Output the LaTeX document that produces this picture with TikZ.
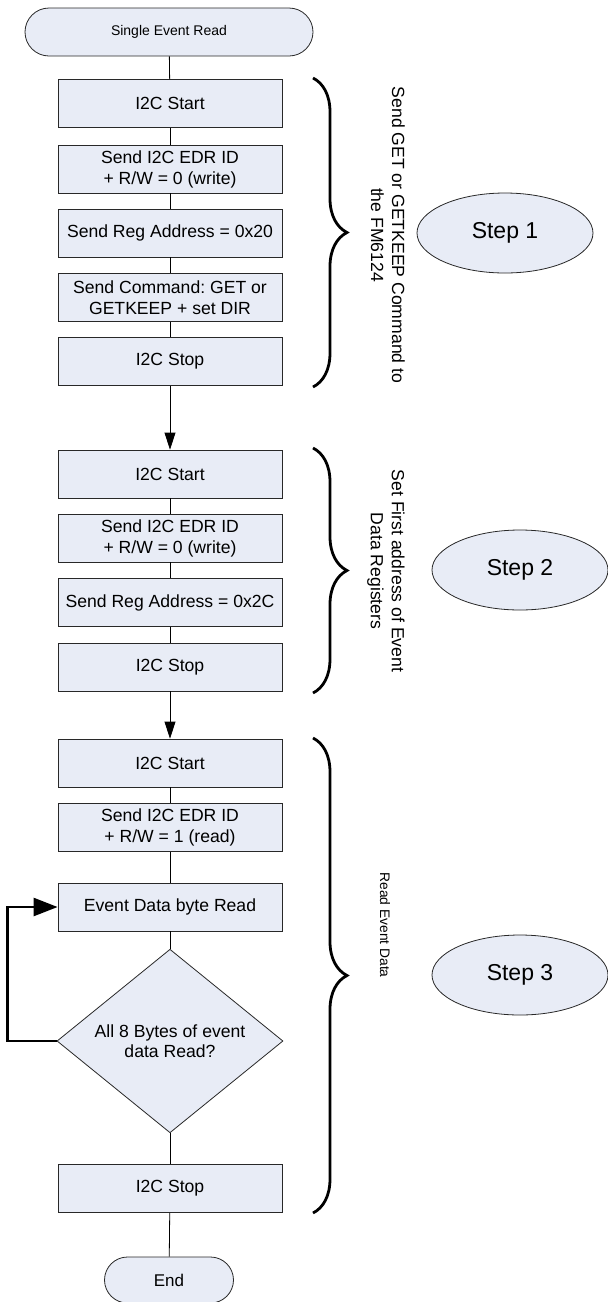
\documentclass[tikz,border=0pt]{standalone}
\usepackage{fontspec}
\setmainfont{Liberation Sans}
\frenchspacing
\usepackage{tikz}
\usetikzlibrary{arrows.meta,shapes.misc,shapes.geometric,decorations.pathreplacing}
\definecolor{boxfill}{RGB}{232,236,246}
\definecolor{edgegray}{RGB}{40,40,40}
\tikzset{
  flowarrow/.style={-{Triangle[length=17pt, width=11pt]}, line width=0.8pt},
  flowline/.style={line width=0.8pt},
  loopline/.style={-{Triangle[length=24pt, width=18pt]}, line width=2.6pt},
  termnode/.style={draw=edgegray, rounded rectangle, fill=boxfill, line width=0.8pt, minimum height=48pt, inner sep=0pt},
  procnode/.style={draw=edgegray, fill=boxfill, line width=0.8pt, minimum width=224pt, minimum height=48pt, inner sep=0pt, align=center, font=\fontsize{17.6}{21}\selectfont},
  decnode/.style={draw=edgegray, diamond, fill=boxfill, line width=0.8pt, minimum width=226pt, minimum height=168pt, inner sep=0pt, align=center, font=\fontsize{17.6}{20}\selectfont},
  stepnode/.style={draw=edgegray, ellipse, fill=boxfill, line width=0.8pt, minimum width=176pt, minimum height=80pt, inner sep=0pt, font=\fontsize{23}{27}\selectfont},
  bracedeco/.style={decorate, decoration={brace, amplitude=34pt}, line width=2.8pt},
  bracelabel/.style={rotate=-90, align=center, font=\fontsize{17.6}{21}\selectfont}
}
\begin{document}
\begin{tikzpicture}[x=1pt, y=-1pt]
  \useasboundingbox (0,0) rectangle (608,1302);
  % flow
  \node[termnode, minimum width=288pt, font=\fontsize{14}{17}\selectfont] (start) at (169,32) {Single Event Read};
  \node[procnode] (a1) at (170,103.5) {I2C Start};
  \node[procnode] (a2) at (170,169) {Send I2C EDR ID\\+ R/W = 0 (write)};
  \node[procnode] (a3) at (170,233) {Send Reg Address = 0x20};
  \node[procnode] (a4) at (170,297.5) {Send Command: GET or\\GETKEEP + set DIR};
  \node[procnode] (a5) at (170,361.5) {I2C Stop};
  \node[procnode] (b1) at (170,474) {I2C Start};
  \node[procnode] (b2) at (170,538) {Send I2C EDR ID\\+ R/W = 0 (write)};
  \node[procnode] (b3) at (170,602.5) {Send Reg Address = 0x2C};
  \node[procnode] (b4) at (170,667) {I2C Stop};
  \node[procnode] (c1) at (170,763) {I2C Start};
  \node[procnode] (c2) at (170,827.5) {Send I2C EDR ID\\+ R/W = 1 (read)};
  \node[procnode] (c3) at (170,907) {Event Data byte Read};
  \node[decnode] (c4) at (170,1041) {All 8 Bytes of event\\data Read?};
  \node[procnode] (c5) at (170,1188.5) {I2C Stop};
  \node[termnode, minimum width=129pt, minimum height=46pt, font=\fontsize{17}{20}\selectfont] (stop) at (169,1280) {End};
  \draw[flowline] (start) -- (a1);
  \draw[flowline] (a1) -- (a2);
  \draw[flowline] (a2) -- (a3);
  \draw[flowline] (a3) -- (a4);
  \draw[flowline] (a4) -- (a5);
  \draw[flowarrow] (a5) -- (b1);
  \draw[flowline] (b1) -- (b2);
  \draw[flowline] (b2) -- (b3);
  \draw[flowline] (b3) -- (b4);
  \draw[flowarrow] (b4) -- (c1);
  \draw[flowline] (c1) -- (c2);
  \draw[flowline] (c2) -- (c3);
  \draw[flowline] (c3) -- (c4);
  \draw[flowline] (c4) -- (c5);
  \draw[flowline] (c5) -- (stop);
  \draw[loopline] (c4.west) -- ++(-49,0) |- (c3.west);
  % braces and steps
  \draw[bracedeco] (313,78) -- (313,387);
  \draw[bracedeco] (313,448) -- (313,693);
  \draw[bracedeco] (313,738) -- (313,1213);
  \node[bracelabel] (t1) at (388,235) {Send GET or GETKEEP Command to\\the FM6124};
  \node[bracelabel] (t2) at (386,571) {Set First address of Event\\Data Registers};
  \node[bracelabel, font=\fontsize{13.8}{16}\selectfont] (t3) at (385,925) {Read Event Data};
  \node[stepnode] (s1) at (505,233) {Step 1};
  \node[stepnode] (s2) at (520,570) {Step 2};
  \node[stepnode] (s3) at (520,975) {Step 3};
\end{tikzpicture}
\end{document}
